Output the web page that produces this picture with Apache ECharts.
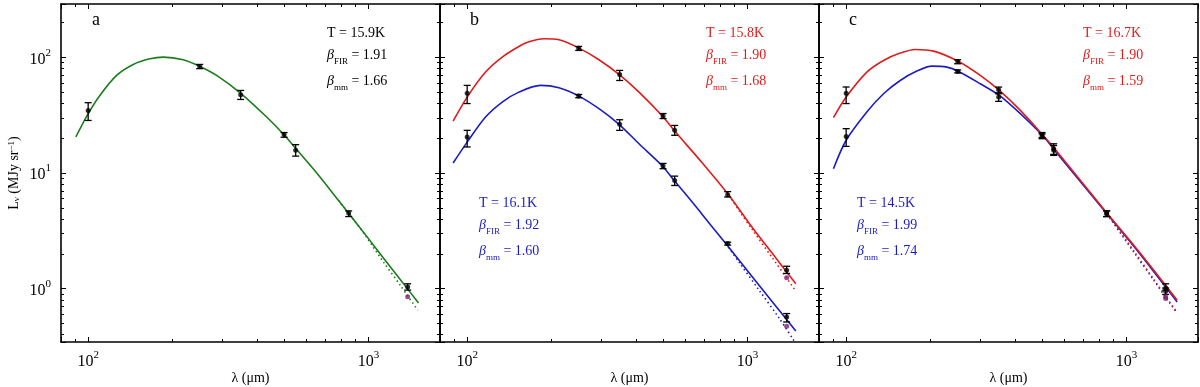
<!DOCTYPE html>
<html>
<head>
<meta charset="utf-8">
<script src="https://cdn.jsdelivr.net/npm/echarts@6/dist/echarts.min.js"></script>
<style>
  html, body { margin: 0; padding: 0; background: #fff; }
  #chart { width: 1200px; height: 387px; }
</style>
</head>
<body>
<div id="chart"></div>
<script>
// axis ranges (log)
var xMin = 80, xMax = 1800
var yMin = 0.345, yMax = 290

// observed bands (micron)
var bands = [100, 250, 350, 500, 550, 850, 1380]

// panel a
var aVal = [34.8, 83.6, 47.5, 21.5, 15.7, 4.5, 1.03]
var aLow = [28.5, 80, 43.3, 20.4, 14.0, 4.2, 0.97]
var aHigh = [40.6, 87, 51.8, 22.4, 17.6, 4.7, 1.10]
var aCorr = [[1380, 0.85]]
var aFit = [[90.4, 20.5], [100, 32.6], [110.1, 46.9], [126.3, 69.9], [144.8, 87.0], [166.1, 97.4], [185.3, 100.7], [218.4, 95.5], [250.5, 83.6], [287.3, 69.9], [351.9, 48.5], [433.5, 30.5], [499.7, 21.4], [551.6, 16.2], [653.9, 10.0], [781.5, 5.80], [848.4, 4.51], [986, 2.83], [1131, 1.84], [1298, 1.20], [1509, 0.751]]
var aFir = [[781.5, 5.80], [934, 3.33], [1131, 1.70], [1298, 1.07], [1500, 0.649]]

// panel b, red source
var bRVal = [49.1, 120, 71.3, 31.1, 23.4, 6.5, 1.44]
var bRLow = [39.9, 115, 63.2, 29.6, 21.2, 6.2, 1.35]
var bRHigh = [57.3, 124.5, 77.2, 32.7, 25.8, 6.9, 1.56]
var bRCorr = [[1380, 1.24]]
var bRFit = [[89.1, 28.1], [100, 45.4], [116.3, 74.7], [133.4, 100.7], [152.9, 124.5], [166.1, 136.6], [187.8, 145.0], [212.5, 142.1], [250.5, 120.4], [295.3, 95.5], [348.1, 71.3], [410.3, 50.1], [497, 31.1], [547, 23.4], [690.7, 12.2], [860, 6.4], [1042, 3.36], [1228, 2.01], [1488, 1.10]]
var bRFir = [[860, 6.4], [934, 4.72], [1042, 3.22], [1228, 1.84], [1480, 0.97]]

// panel b, blue source
var bBVal = [20.5, 46.3, 26.4, 11.5, 8.6, 2.45, 0.569]
var bBLow = [16.8, 44.8, 23.4, 10.9, 7.8, 2.38, 0.514]
var bBHigh = [23.4, 47.8, 28.9, 12.1, 9.4, 2.52, 0.608]
var bBCorr = [[1380, 0.472]]
var bBFit = [[89.1, 12.2], [100, 18.5], [116.3, 30.5], [133.4, 41.1], [152.9, 50.1], [182.7, 57.3], [212.5, 54.7], [250.5, 46.3], [295.3, 36.0], [348.1, 26.4], [410.3, 17.9], [497, 11.5], [547, 8.64], [627.7, 5.80], [690.7, 4.36], [836.9, 2.45], [1042, 1.26], [1228, 0.766], [1488, 0.430]]
var bBFir = [[836.9, 2.45], [934, 1.69], [1101, 0.967], [1298, 0.554], [1470, 0.35]]

// panel c, red source
var cRVal = [49.1, 92.3, 52.6, 21.5, 16.2, 4.5, 1.01]
var cRLow = [39.9, 88.2, 48.5, 20.2, 14.5, 4.2, 0.97]
var cRHigh = [55.5, 95.5, 55.4, 22.4, 17.9, 4.7, 1.10]
var cRCorr = [[1380, 0.85]]
var cRFit = [[90.1, 30.1], [100, 45.4], [118.5, 74.7], [135.9, 94.2], [155.9, 109.0], [176.4, 117.3], [205.1, 113.4], [251.9, 92.3], [301.0, 69.9], [351.9, 51.8], [418.2, 34.8], [504, 21.2], [554.6, 16.2], [853, 4.48], [1062, 2.37], [1252, 1.44], [1517, 0.792]]
var cRFir = [[853, 4.48], [1062, 2.12], [1252, 1.20], [1496, 0.649]]

// panel c, blue source
var cBVal = [20.7, 75.7, 45.4, 20.8, 15.7, 4.45, 0.95]
var cBLow = [17.0, 73.5, 41.7, 19.8, 14.2, 4.2, 0.89]
var cBHigh = [24.2, 78, 49.5, 21.8, 17.3, 4.7, 1.01]
var cBCorr = [[1380, 0.82]]
var cBFit = [[90.1, 10.9], [100, 19.2], [118.5, 33.7], [135.9, 48.5], [155.9, 63.2], [178.8, 76.2], [202.3, 84.1], [228.8, 82.5], [251.9, 75.7], [301.0, 59.2], [351.9, 46.9], [418.2, 32.6], [504, 20.9], [554.6, 15.7], [853, 4.42], [1062, 2.32], [1252, 1.40], [1517, 0.766]]
var cBFir = [[853, 4.42], [1062, 2.07], [1252, 1.18], [1496, 0.641]]

var GREEN = '#1b7d1b', RED = '#e01c1c', BLUE = '#1c1cc4', PURPLE = '#80206e'
var FONT = '"Liberation Serif", "DejaVu Serif", serif'

var chart = echarts.init(document.getElementById('chart'))

function powLabel(v) {
  var l = Math.log10(v)
  var e = Math.round(l)
  if (Math.abs(l - e) > 1e-6) return ''
  return '{b|10}{p|' + e + '}'
}
var powRich = {
  b: { fontSize: 16, lineHeight: 20, verticalAlign: 'bottom', fontFamily: FONT, color: '#000' },
  p: { fontSize: 11, lineHeight: 11, verticalAlign: 'top', fontFamily: FONT, color: '#000' }
}

function errRender(params, api) {
  var x = api.value(0)
  var lo = api.coord([x, api.value(1)])
  var hi = api.coord([x, api.value(2)])
  var st = { stroke: '#000', lineWidth: 1.3 }
  return {
    type: 'group',
    children: [
      { type: 'line', shape: { x1: lo[0], y1: lo[1], x2: hi[0], y2: hi[1] }, style: st },
      { type: 'line', shape: { x1: lo[0] - 3.5, y1: lo[1], x2: lo[0] + 3.5, y2: lo[1] }, style: st },
      { type: 'line', shape: { x1: hi[0] - 3.5, y1: hi[1], x2: hi[0] + 3.5, y2: hi[1] }, style: st }
    ]
  }
}

var grids = [], xAxes = [], yAxes = [], series = []
var lefts = [61, 440, 819]

lefts.forEach(function (left, i) {
  grids.push({ left: left, top: 4, width: 379, height: 338, outerBoundsMode: 'none', containLabel: false })
  var tick = { show: true, inside: true, length: 5, lineStyle: { color: '#000', width: 1 } }
  var minor = { show: true, splitNumber: 9, length: 3, lineStyle: { color: '#000', width: 1 } }
  var line = { show: true, lineStyle: { color: '#000', width: 1.6 } }
  xAxes.push({
    type: 'log', logBase: 10, gridIndex: i, position: 'bottom', min: xMin, max: xMax,
    axisLine: line, axisTick: tick, minorTick: minor, splitLine: { show: false }, minorSplitLine: { show: false },
    axisLabel: { formatter: powLabel, rich: powRich, margin: 8, fontFamily: FONT },
    name: 'λ (μm)', nameLocation: 'middle', nameGap: 29, nameMoveOverlap: false,
    nameTextStyle: { fontFamily: FONT, fontSize: 14, color: '#000' }
  })
  xAxes.push({
    type: 'log', logBase: 10, gridIndex: i, position: 'top', min: xMin, max: xMax,
    axisLine: line, axisTick: tick, minorTick: minor, splitLine: { show: false }, axisLabel: { show: false }
  })
  yAxes.push({
    type: 'log', logBase: 10, gridIndex: i, position: 'left', min: yMin, max: yMax,
    axisLine: line, axisTick: tick, minorTick: minor, splitLine: { show: false }, minorSplitLine: { show: false },
    axisLabel: { show: i === 0, formatter: powLabel, rich: powRich, margin: 10 },
    name: i === 0 ? 'L{s|ν} (MJy sr{p|−1})' : '', nameLocation: 'middle', nameGap: 40, nameRotate: 90,
    nameMoveOverlap: false,
    nameTextStyle: {
      fontFamily: FONT, fontSize: 14, color: '#000',
      rich: {
        s: { fontSize: 9, fontFamily: FONT, verticalAlign: 'bottom', lineHeight: 9 },
        p: { fontSize: 9, fontFamily: FONT, verticalAlign: 'top', lineHeight: 9 }
      }
    }
  })
  yAxes.push({
    type: 'log', logBase: 10, gridIndex: i, position: 'right', min: yMin, max: yMax,
    axisLine: line, axisTick: tick, minorTick: minor, splitLine: { show: false }, axisLabel: { show: false }
  })
})

function addSource(panel, color, fit, fir, val, low, high, corr) {
  var xi = panel * 2, yi = panel * 2
  series.push({
    type: 'line', xAxisIndex: xi, yAxisIndex: yi, data: fir, showSymbol: false, smooth: 0.3,
    lineStyle: { color: color, width: 1.6, type: [1.5, 3] }, z: 3, silent: true
  })
  series.push({
    type: 'line', xAxisIndex: xi, yAxisIndex: yi, data: fit, showSymbol: false, smooth: 0.3,
    lineStyle: { color: color, width: 1.6 }, z: 4, silent: true
  })
  series.push({
    type: 'custom', xAxisIndex: xi, yAxisIndex: yi, renderItem: errRender,
    encode: { x: 0, y: [1, 2] },
    data: bands.map(function (b, k) { return [b, low[k], high[k]] }), z: 5, silent: true
  })
  series.push({
    type: 'scatter', xAxisIndex: xi, yAxisIndex: yi, symbolSize: 5,
    itemStyle: { color: '#000' },
    data: bands.map(function (b, k) { return [b, val[k]] }), z: 5, silent: true
  })
  series.push({
    type: 'scatter', xAxisIndex: xi, yAxisIndex: yi, symbolSize: 5,
    itemStyle: { color: PURPLE }, data: corr, z: 5, silent: true
  })
}

addSource(0, GREEN, aFit, aFir, aVal, aLow, aHigh, aCorr)
addSource(1, RED, bRFit, bRFir, bRVal, bRLow, bRHigh, bRCorr)
addSource(1, BLUE, bBFit, bBFir, bBVal, bBLow, bBHigh, bBCorr)
addSource(2, BLUE, cBFit, cBFir, cBVal, cBLow, cBHigh, cBCorr)
addSource(2, RED, cRFit, cRFir, cRVal, cRLow, cRHigh, cRCorr)

var subRich = {
  b: { fontSize: 14, fontFamily: FONT, lineHeight: 18, verticalAlign: 'top' },
  i: { fontSize: 14, fontFamily: FONT, fontStyle: 'italic', lineHeight: 18, verticalAlign: 'top' },
  s: { fontSize: 9, fontFamily: FONT, lineHeight: 9, verticalAlign: 'bottom' }
}

// row offsets of the three fit-parameter lines
var rowOff = [2.5, 24.5, 50]

function fitText(x, y, color, lines) {
  return lines.map(function (t, k) {
    return {
      type: 'text', x: x, y: y + rowOff[k], silent: true,
      style: { text: t, fill: color, fontFamily: FONT, fontSize: 14, rich: subRich }
    }
  })
}

function letter(x, t) {
  return { type: 'text', x: x, y: 11, silent: true, style: { text: t, fill: '#000', fontFamily: FONT, fontSize: 18 } }
}

var graphics = [].concat(
  [letter(92, 'a'), letter(470, 'b'), letter(849, 'c')],
  fitText(327, 24, '#000', ['{b|T = 15.9K}', '{i|β}{s|FIR}{b| = 1.91}', '{i|β}{s|mm}{b| = 1.66}']),
  fitText(706, 24, RED, ['{b|T = 15.8K}', '{i|β}{s|FIR}{b| = 1.90}', '{i|β}{s|mm}{b| = 1.68}']),
  fitText(479, 194, BLUE, ['{b|T = 16.1K}', '{i|β}{s|FIR}{b| = 1.92}', '{i|β}{s|mm}{b| = 1.60}']),
  fitText(1083, 24, RED, ['{b|T = 16.7K}', '{i|β}{s|FIR}{b| = 1.90}', '{i|β}{s|mm}{b| = 1.59}']),
  fitText(857, 194, BLUE, ['{b|T = 14.5K}', '{i|β}{s|FIR}{b| = 1.99}', '{i|β}{s|mm}{b| = 1.74}'])
)

chart.setOption({
  animation: false,
  backgroundColor: '#fff',
  grid: grids,
  xAxis: xAxes,
  yAxis: yAxes,
  graphic: graphics,
  series: series
})
</script>
</body>
</html>
